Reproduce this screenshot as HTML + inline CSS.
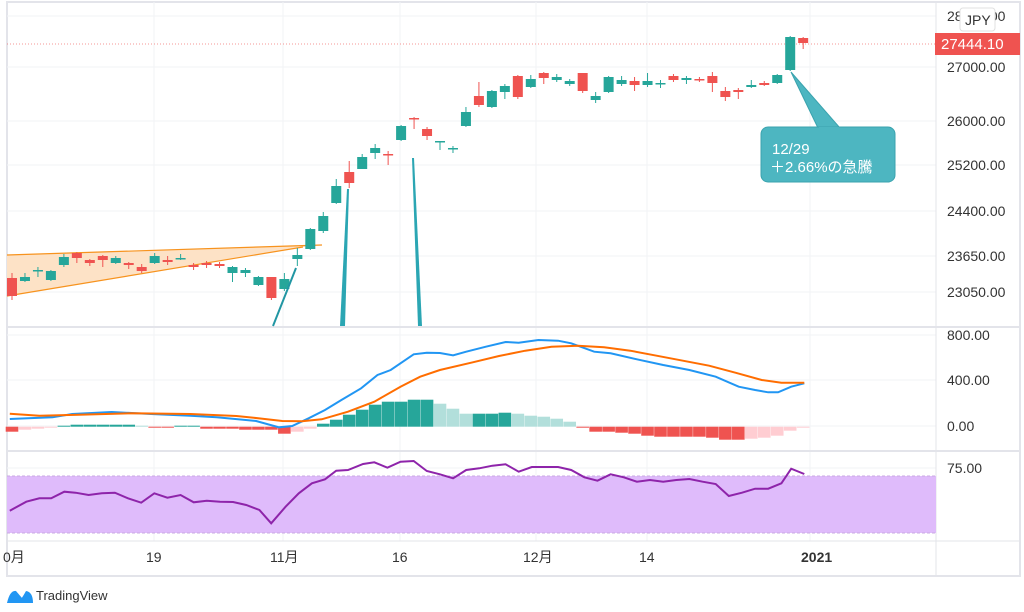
<!DOCTYPE html>
<html><head><meta charset="utf-8"><style>
html,body{margin:0;padding:0;background:#fff;width:1024px;height:612px;overflow:hidden}
svg{display:block}
text{font-family:"Liberation Sans","Noto Sans CJK JP",sans-serif}
</style></head><body>
<svg id="s" width="1024" height="612" viewBox="0 0 1024 612" xmlns="http://www.w3.org/2000/svg">
<rect x="7" y="2" width="1013" height="574" fill="#fff" stroke="#e3e4ea" stroke-width="2"/>
<g id="grid" stroke="#f2f3f6" stroke-width="1"></g>
<line x1="936" y1="2" x2="936" y2="576" stroke="#e3e4ea"/>
<line x1="7" y1="327" x2="1020" y2="327" stroke="#e3e4ea" stroke-width="2"/>
<line x1="7" y1="451" x2="1020" y2="451" stroke="#e3e4ea" stroke-width="2"/>
<line x1="7" y1="541" x2="1020" y2="541" stroke="#e3e4ea"/>
<polygon points="7,255 322,245 303,247 7,296" fill="#fde2c6"/>
<line x1="7" y1="255" x2="322" y2="245" stroke="#f7931e" stroke-width="1.2"/>
<line x1="7" y1="296" x2="303" y2="247" stroke="#f7931e" stroke-width="1.2"/>
<line x1="7" y1="44" x2="936" y2="44" stroke="#ef5350" stroke-width="1" stroke-dasharray="1,2" opacity="0.6"/>
<g id="c"></g>
<line x1="273" y1="326" x2="296" y2="268" stroke="#2196a3" stroke-width="2"/>
<polygon points="340,326 345,326 349,189 347,189" fill="#2ba6b3"/>
<polygon points="418,326 422,326 414,158 412,158" fill="#2ba6b3"/>
<polygon points="791,72 818,128 840,128" fill="#4db6c1" stroke="#3aa3ae"/>
<rect x="761" y="127" width="134" height="55" rx="7" fill="#4db6c1" stroke="#3aa3ae"/>
<line x1="819" y1="128" x2="839" y2="128" stroke="#4db6c1" stroke-width="2"/>
<text x="772" y="154" font-size="15" fill="#fff">12/29</text>
<text x="770" y="172" font-size="15" fill="#fff">＋2.66%の急騰</text>
<g id="m"></g>
<rect x="7" y="476" width="929" height="57" fill="#dfbbfb"/>
<line x1="7" y1="476" x2="936" y2="476" stroke="#c9a8e3" stroke-dasharray="3,2"/>
<line x1="7" y1="533" x2="936" y2="533" stroke="#c9a8e3" stroke-dasharray="3,2"/>
<polyline id="rsi" fill="none" stroke="#8e24aa" stroke-width="2"/>
<g font-size="14" fill="#333">
<text x="947" y="21">28000.00</text>
<text x="947" y="72">27000.00</text>
<text x="947" y="126">26000.00</text>
<text x="947" y="170">25200.00</text>
<text x="947" y="216">24400.00</text>
<text x="947" y="261">23650.00</text>
<text x="947" y="297">23050.00</text>
<text x="947" y="340">800.00</text>
<text x="947" y="385">400.00</text>
<text x="947" y="431">0.00</text>
<text x="947" y="473">75.00</text>
</g>
<rect x="960" y="8" width="35" height="23" rx="3" fill="#fff" stroke="#e0e0e0"/>
<text x="965" y="25" font-size="14" fill="#333">JPY</text>
<rect x="935" y="33" width="85" height="22" fill="#ef5350"/>
<text x="941" y="49" font-size="15" fill="#fff">27444.10</text>
<g font-size="14" fill="#333">
<text x="3" y="562">0月</text>
<text x="146" y="562">19</text>
<text x="270" y="562">11月</text>
<text x="392" y="562">16</text>
<text x="523" y="562">12月</text>
<text x="639" y="562">14</text>
<text x="801" y="562" font-weight="bold">2021</text>
</g>
<path d="M7,603 L15,592 L21,599 L26,592 L33,603 Z" fill="#2962ff" opacity="0.8"/>
<path d="M7,603 Q10,590 16,591 L22,598 L26,591 Q33,592 33,603 Z" fill="#2196f3"/>
<text x="36" y="600" font-size="13" fill="#333">TradingView</text>
</svg>
<script>
var NS="http://www.w3.org/2000/svg";
function el(p,t,a){var e=document.createElementNS(NS,t);for(var k in a)e.setAttribute(k,a[k]);document.getElementById(p).appendChild(e);return e;}
[16,67,121,165,211,256,292,335,380,426,468].forEach(function(y){el("grid","line",{x1:7,y1:y,x2:936,y2:y});});
[154,283,400,536,647,810].forEach(function(x){el("grid","line",{x1:x,y1:2,x2:x,y2:541});});
var C=[
"r 278 296 273 300","g 277 281 273 282","g 270 271 267 277","g 271 280 270 281","g 257 265 254 267","r 253 258 252 263","r 260 263 259 266","r 256 260 255 267","g 258 263 256 264","r 263 265 262 269","r 267 271 264 273","g 256 263 253 264","r 260 262 256 265","g 258 259 254 260","r 265 267 263 270","r 263 265 261 268","r 264 266 262 268","g 267 273 266 282","g 270 273 268 277","g 277 285 276 286","r 277 298 277 300","g 279 289 273 291","g 255 259 248 266","g 229 249 228 250","g 216 231 212 233","g 186 203 179 204","r 172 183 161 188","g 157 169 154 169","g 148 153 144 159","r 154 155 151 165","g 126 140 125 141","r 118 119 117 129","r 129 136 127 140","g 141 142 141 150","g 148 149 146 153","g 112 126 107 127",
"r 96 105 82 107","g 91 107 90 108","g 86 92 84 99","r 76 97 75 99","g 79 87 75 88","r 73 78 72 84","g 77 80 74 82","g 81 84 79 86","r 73 91 73 93","g 96 100 92 103","g 77 92 76 93","g 80 84 76 86","r 81 85 77 91","g 81 85 73 87","g 83 84 80 88","r 76 80 74 82","g 78 80 76 84","r 79 80 77 82","r 76 83 72 92","r 91 97 87 101","r 90 92 88 99","g 85 87 80 88","r 83 85 81 86","g 75 83 74 84","g 37 70 36 71","r 38 43 37 49"];
function X(i){return 12+12.97*i;}
C.forEach(function(s,i){var p=s.split(" "),col=p[0]=="g"?"#26a69a":"#ef5350",t=+p[1],b=+p[2],x=X(i);
el("c","line",{x1:x,y1:p[3],x2:x,y2:p[4],stroke:col,"stroke-width":1});
el("c","rect",{x:x-5,y:t,width:10,height:Math.max(b-t,1.5),fill:col});});
// histogram
var H=[-5,-3,-2,-1,1,2,2,2,2,2,1,-1,-1,1,1,-2,-2,-2,-3,-3,-3,-7,-5,-2,3,7,12,17,22,25,25,27,27,23,18,13,13,13,14,13,11,10,8,5,-1,-5,-5,-6,-7,-9,-10,-10,-10,-10,-11,-13,-13,-12,-11,-9,-4,-1];
H.forEach(function(v,i){var prev=i?H[i-1]:0,col;
if(v>=0)col=(v>=prev)?"#26a69a":"#b2dfdb";else col=(v<=prev)?"#ef5350":"#ffcdd2";
var x=X(i);el("m","rect",{x:x-6.3,y:v>=0?426.7-v:426.7,width:12.6,height:Math.max(Math.abs(v),1),fill:col});});
function conv(a){var o=[];for(var i=0;i<a.length;i+=2)o.push((a[i]/1.523).toFixed(1)+","+(320+a[i+1]/3).toFixed(1));return o.join(" ");}
var B=[15,297,80,292,110,282,170,276,230,282,290,287,330,292,390,303,425,322,445,318,470,295,495,270,520,240,550,205,575,165,595,150,630,103,650,98,670,99,690,106,710,95,740,80,770,66,790,68,820,60,850,62,870,70,905,95,930,100,970,118,1010,135,1050,150,1090,170,1125,200,1150,210,1170,217,1185,217,1205,200,1225,190];
var O=[15,281,60,287,120,284,200,280,290,282,360,288,400,296,430,303,460,304,490,298,530,275,570,245,610,200,640,170,670,150,720,127,760,108,800,92,840,80,880,77,920,82,960,92,1000,107,1040,122,1080,137,1120,158,1160,180,1190,188,1225,188];
el("m","polyline",{points:conv(B),fill:"none",stroke:"#2196f3","stroke-width":2});
el("m","polyline",{points:conv(O),fill:"none",stroke:"#ff6d00","stroke-width":2});
var R=[15,572,40,545,60,535,78,535,98,515,115,518,135,525,155,520,175,518,195,535,215,548,235,520,255,533,275,525,295,547,315,542,335,545,355,546,375,555,395,570,413,610,435,560,455,520,475,490,495,478,512,452,530,450,553,432,570,427,590,443,610,425,630,423,650,453,670,463,690,475,710,450,730,445,750,437,770,433,790,455,810,441,850,441,870,450,890,472,910,482,930,463,950,472,970,485,990,480,1010,485,1030,480,1050,477,1070,485,1090,492,1110,528,1130,518,1150,506,1170,506,1190,490,1205,446,1225,462];
document.getElementById("rsi").setAttribute("points",conv(R));
</script>
</body></html>
